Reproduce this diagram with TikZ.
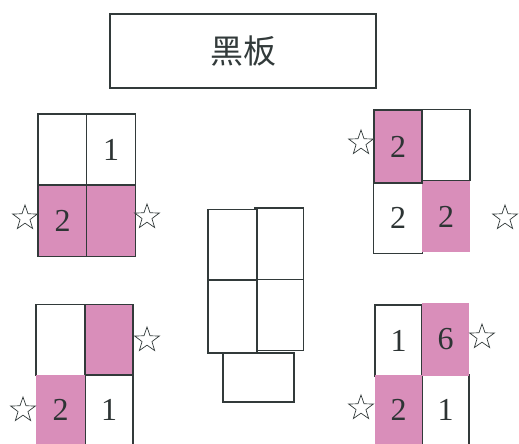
\documentclass[tikz,border=0pt]{standalone}
\usepackage{fontspec}
\setmainfont{Liberation Serif}
\newfontfamily\cjk{Noto Sans CJK SC}
\usetikzlibrary{shapes.geometric}
\definecolor{ink}{RGB}{50,58,58}
\definecolor{pinkc}{RGB}{217,142,186}
\tikzset{
  cell/.style={draw=ink, line width=1.6pt, fill=white, inner sep=0pt,
    minimum width=#1, minimum height=71pt, font=\fontsize{32}{32}\selectfont, text=ink!90!black},
  cell/.default=49pt,
  pcell/.style={cell=#1, fill=pinkc},
  pcell/.default=49pt,
  pfill/.style={fill=pinkc, draw=none, inner sep=0pt, minimum width=#1, minimum height=71pt,
    font=\fontsize{32}{32}\selectfont, text=ink!90!black},
  pfill/.default=48pt,
  starn/.style={star, star points=5, star point ratio=2.5, draw=ink, line width=0.7pt,
    fill=white, minimum size=26pt, inner sep=0pt}
}
\begin{document}
\begin{tikzpicture}[x=1pt,y=-1pt]
\useasboundingbox (0,0) rectangle (519,444);
% blackboard
\node[draw=ink, line width=1.8pt, minimum width=266pt, minimum height=74pt, inner sep=0pt,
  font=\cjk\fontsize{33}{33}\selectfont, text=ink] (board) at (243,51) {黑板};
% top-left group
\node[cell] (a11) at (62.5,149.5) {};
\node[cell] (a12) at (111,149.5) {1};
\node[pcell] (a21) at (62.5,221) {2};
\node[pcell] (a22) at (111,221) {};
\node[starn] (sa1) at (25,218) {};
\node[starn] (sa2) at (147,217) {};
% top-right group
\node[cell] (b12) at (445.5,145) {};
\node[cell] (b21) at (398,218) {2};
\node[pfill] (b22) at (446,216.5) {2};
\node[pcell=48pt, minimum height=73pt] (b11) at (398,146.5) {2};
\node[starn] (sb1) at (361,143) {};
\node[starn] (sb2) at (505,218) {};
% middle group
\node[cell, minimum height=72pt] (c12) at (279,244) {};
\node[cell] (c22) at (279,315) {};
\node[cell] (c11) at (232.5,245) {};
\node[cell, minimum height=73pt] (c21) at (232.5,316.5) {};
\node[cell=71pt, minimum height=49pt] (c3) at (258.5,377.5) {};
% bottom-left group
\node[cell] (d11) at (60.5,340) {};
\node[pcell=48pt] (d12) at (109,340) {};
\node[cell=48pt, minimum height=76pt] (d22) at (109,413) {};
\node[pfill=49pt, minimum height=76pt] (d21) at (60.5,413) {};
\node[font=\fontsize{32}{32}\selectfont, text=ink!90!black] (d22t) at (109,410) {1};
\node[font=\fontsize{32}{32}\selectfont, text=ink!90!black] (d21t) at (60.5,410) {2};
\node[starn] (sd1) at (147,340) {};
\node[starn] (sd2) at (23,410) {};
% bottom-right group
\node[cell=47pt] (e11) at (398.5,340.5) {1};
\node[cell=47pt, minimum height=76pt] (e22) at (445.5,413) {};
\node[pfill=47pt, minimum height=73pt] (e12) at (445.5,339.5) {6};
\node[pfill=47pt, minimum height=76pt] (e21) at (398.5,413) {};
\node[font=\fontsize{32}{32}\selectfont, text=ink!90!black] (e22t) at (445.5,410) {1};
\node[font=\fontsize{32}{32}\selectfont, text=ink!90!black] (e21t) at (398.5,410) {2};
\node[starn] (se1) at (482,337) {};
\node[starn] (se2) at (361,408) {};
\end{tikzpicture}
\end{document}
